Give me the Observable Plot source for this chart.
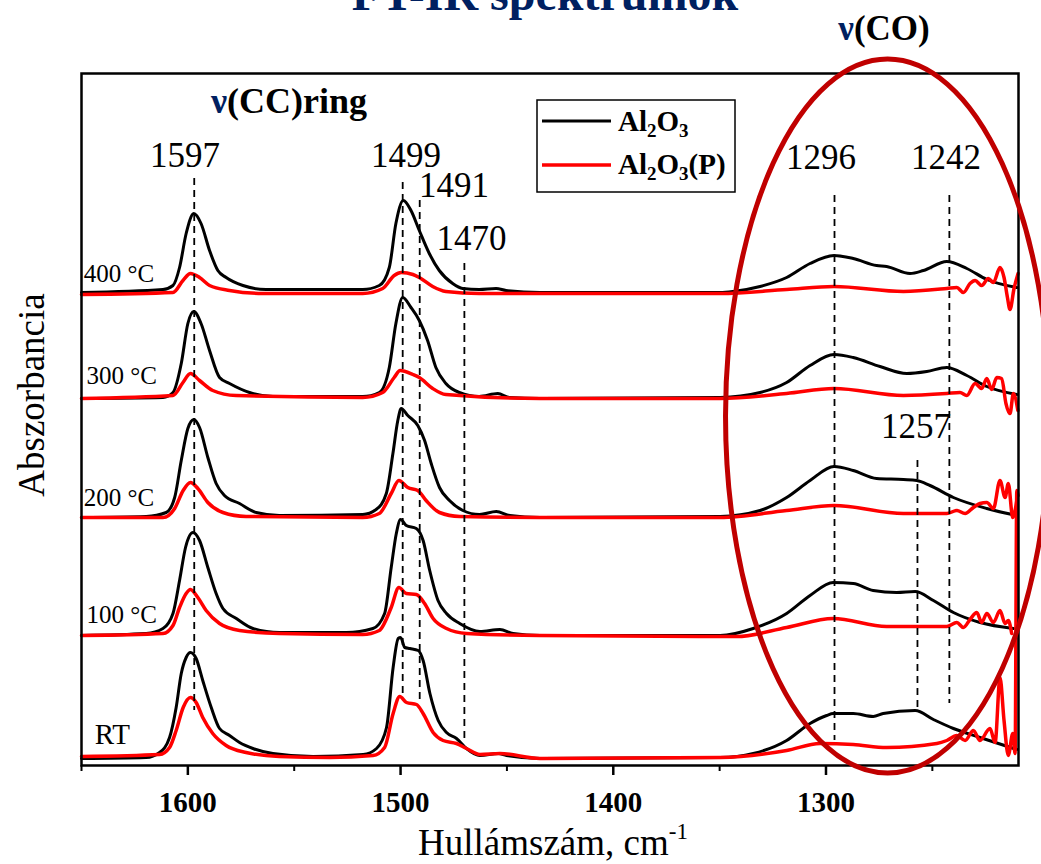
<!DOCTYPE html>
<html><head><meta charset="utf-8">
<script src="https://cdn.jsdelivr.net/npm/d3@7"></script>
<script src="https://cdn.jsdelivr.net/npm/@observablehq/plot@0.6"></script>
<style>body{margin:0;background:#fff}#chart{width:1041px;height:864px;overflow:hidden}</style>
</head><body><div id="chart"></div>
<script>
// ---- axis ticks ----
const majorTicks = [1600, 1500, 1400, 1300];
const minorTicks = [1650, 1550, 1450, 1350, 1250];

// ---- spectra: [wavenumber (cm-1), stacked absorbance (a.u.)] ----
const alRT = [[1650,0.07],[1619.6,0.08],[1613.3,0.13],[1608.6,0.28],[1605.5,0.58],[1603.1,0.92],[1600.8,1.08],[1598.8,1.13],[1596.1,1.07],[1593,0.85],[1589,0.58],[1585.1,0.37],[1580.4,0.30],[1575.7,0.23],[1569.4,0.17],[1560,0.12],[1541.1,0.09],[1517.6,0.11],[1511.3,0.17],[1506.6,0.38],[1503.5,0.98],[1501.1,1.27],[1500,1.28],[1498,1.18],[1495.6,1.17],[1491.7,1.15],[1489.4,1.05],[1486.2,0.72],[1482.3,0.45],[1478.4,0.33],[1473.7,0.27],[1469,0.17],[1462.7,0.10],[1454.1,0.12],[1450.2,0.10],[1434.5,0.07],[1349.8,0.08],[1334.2,0.12],[1318.5,0.25],[1307.5,0.42],[1299.7,0.50],[1296.6,0.52],[1287.2,0.52],[1277.8,0.49],[1273.1,0.52],[1258.1,0.55],[1249.5,0.46],[1240.1,0.37],[1227.6,0.28],[1210.3,0.16]];
const alpRT = [[1650,0.09],[1613.3,0.11],[1608.6,0.18],[1605.5,0.35],[1602.2,0.58],[1598.8,0.68],[1596.1,0.63],[1593,0.48],[1588.3,0.32],[1582,0.20],[1572.6,0.13],[1557,0.09],[1533.4,0.08],[1513,0.10],[1507.5,0.18],[1503.5,0.52],[1500.4,0.69],[1497.2,0.63],[1492.5,0.61],[1489.4,0.52],[1484.7,0.33],[1480,0.25],[1473.7,0.22],[1469,0.17],[1462.7,0.11],[1453.3,0.12],[1434.5,0.07],[1349.8,0.08],[1318.5,0.15],[1302.8,0.22],[1287.2,0.21],[1271.5,0.18],[1247.9,0.22],[1243.2,0.25],[1238.5,0.30],[1234.6,0.25],[1230.7,0.35],[1227.6,0.25],[1222.9,0.37],[1220.5,0.23],[1218.2,0.88],[1216.3,0.45],[1214.3,0.10],[1212.2,0.32],[1211.1,0.12],[1210.3,2.75],[1209.7,2.70]];
const al100 = [[1650,1.30],[1619.6,1.32],[1611.7,1.37],[1607,1.52],[1603.9,1.85],[1601.1,2.18],[1597.6,2.33],[1594.5,2.25],[1590.6,1.98],[1586.7,1.72],[1583.5,1.57],[1577.2,1.47],[1569.4,1.37],[1556.9,1.33],[1525.5,1.33],[1513,1.37],[1507.5,1.52],[1504.4,1.98],[1502,2.32],[1500,2.46],[1497.3,2.40],[1492.6,2.37],[1489.4,2.25],[1486.3,1.95],[1482.4,1.65],[1478.4,1.52],[1472.2,1.42],[1462.7,1.34],[1453.3,1.36],[1447.1,1.32],[1434.5,1.30],[1349.8,1.30],[1334.2,1.37],[1318.5,1.52],[1307.5,1.70],[1296.6,1.83],[1287.2,1.82],[1277.8,1.75],[1266.8,1.73],[1258.1,1.74],[1249.5,1.65],[1240.1,1.53],[1227.6,1.43],[1211.9,1.37]];
const alp100 = [[1650,1.30],[1611.7,1.32],[1607,1.40],[1603.9,1.58],[1600.8,1.72],[1598.8,1.76],[1595.3,1.68],[1591.4,1.55],[1585.1,1.42],[1575.7,1.35],[1557,1.32],[1517.8,1.31],[1510,1.35],[1504.4,1.58],[1500.8,1.78],[1497.3,1.72],[1492.6,1.71],[1488.7,1.62],[1484.7,1.47],[1478.4,1.37],[1469,1.32],[1434.5,1.30],[1342,1.29],[1318.5,1.38],[1296.6,1.47],[1271.5,1.39],[1243.2,1.39],[1238.5,1.43],[1235.4,1.38],[1232.3,1.46],[1229.1,1.53],[1226.8,1.43],[1224.4,1.52],[1221.3,1.43],[1218.2,1.55],[1215.8,1.42],[1214.3,1.45],[1212.7,1.32]];
const al200 = [[1650,2.48],[1619.6,2.49],[1610.2,2.53],[1606.2,2.68],[1603.1,3.05],[1600,3.37],[1597.2,3.46],[1594.5,3.38],[1590.6,3.08],[1586.7,2.82],[1582.8,2.70],[1575.7,2.62],[1567.9,2.53],[1557,2.50],[1517.8,2.51],[1511.5,2.56],[1506.7,2.72],[1503.6,3.12],[1501.3,3.45],[1499.7,3.57],[1496.6,3.50],[1491.9,3.40],[1488.7,3.25],[1485.6,3.02],[1481.7,2.78],[1477,2.65],[1470.7,2.55],[1462.9,2.51],[1455,2.54],[1448.7,2.50],[1434.5,2.48],[1349.8,2.49],[1331,2.55],[1318.5,2.68],[1307.5,2.85],[1296.2,2.99],[1287.2,2.95],[1276.2,2.87],[1263.6,2.86],[1257.3,2.85],[1251.1,2.80],[1240.1,2.68],[1224.4,2.57],[1210.3,2.50]];
const alp200 = [[1650,2.48],[1611.7,2.48],[1606.2,2.57],[1602.2,2.75],[1598.8,2.83],[1595.3,2.77],[1590.6,2.63],[1583.5,2.53],[1572.6,2.49],[1517.8,2.48],[1510,2.52],[1504.4,2.72],[1500.8,2.85],[1496.6,2.78],[1491.9,2.75],[1488,2.65],[1481.7,2.53],[1472.2,2.49],[1434.5,2.48],[1349.8,2.48],[1318.5,2.55],[1296.2,2.60],[1263.6,2.52],[1243.2,2.52],[1238.5,2.55],[1234.6,2.52],[1230.7,2.58],[1227.6,2.62],[1224.4,2.63],[1221.3,2.57],[1218.2,2.85],[1215.8,2.68],[1214.3,2.82],[1212.2,2.48],[1210.3,2.65]];
const al300 = [[1650,3.67],[1611.7,3.68],[1607,3.73],[1603.1,4.02],[1600,4.42],[1597.2,4.54],[1593.8,4.42],[1589.8,4.15],[1585.1,3.88],[1580.4,3.82],[1571,3.73],[1560,3.69],[1517.8,3.69],[1510,3.73],[1505.3,3.98],[1502.2,4.42],[1499,4.68],[1495.1,4.58],[1491.2,4.45],[1487.3,4.25],[1483.4,3.98],[1478.7,3.82],[1472.4,3.73],[1463,3.69],[1454.3,3.72],[1448.8,3.68],[1434.5,3.67],[1349.8,3.68],[1331,3.73],[1318.5,3.83],[1307.5,4.00],[1296.2,4.11],[1287.2,4.08],[1274.6,3.99],[1262,3.92],[1252.6,3.94],[1243.2,3.98],[1233.8,3.90],[1224.4,3.79],[1210.3,3.71]];
const alp300 = [[1650,3.67],[1607,3.70],[1602.3,3.83],[1598.8,3.92],[1594.5,3.85],[1588.3,3.75],[1577.3,3.70],[1517.8,3.68],[1508.4,3.73],[1503,3.88],[1500.2,3.95],[1494.2,3.91],[1491.2,3.88],[1484.9,3.77],[1478.7,3.71],[1434.5,3.67],[1349.8,3.67],[1318.5,3.72],[1296.2,3.77],[1263.6,3.70],[1243.2,3.72],[1237,3.73],[1233.8,3.70],[1229.9,3.82],[1226.8,3.77],[1224.4,3.87],[1222.1,3.76],[1219.7,3.88],[1217.4,3.87],[1215.4,3.62],[1213.5,3.52],[1211.9,3.72],[1209.8,3.55]];
const al400 = [[1650,4.73],[1611.7,4.76],[1607,4.80],[1603.9,4.98],[1600.8,5.32],[1597.2,5.52],[1593.8,5.42],[1589.8,5.15],[1585.9,4.95],[1582,4.88],[1574.1,4.80],[1563.2,4.76],[1517.8,4.76],[1510,4.80],[1505.3,4.98],[1502.2,5.42],[1498.7,5.65],[1495.1,5.55],[1491.2,5.35],[1486.5,5.12],[1481.8,4.95],[1475.5,4.82],[1470.8,4.77],[1463,4.76],[1455.1,4.77],[1450.4,4.75],[1434.5,4.73],[1349.8,4.73],[1343.6,4.74],[1331,4.79],[1318.5,4.88],[1307.5,5.02],[1296.2,5.10],[1287.2,5.07],[1276.2,5.00],[1271.5,4.99],[1260.5,4.92],[1254.2,4.95],[1243.2,5.04],[1233.8,4.97],[1224.4,4.86],[1210.3,4.78]];
const alp400 = [[1650,4.71],[1607,4.73],[1602.3,4.85],[1598.8,4.92],[1594.5,4.88],[1589.8,4.80],[1580.4,4.75],[1564.7,4.72],[1517.8,4.72],[1508.4,4.77],[1503,4.90],[1499.7,4.93],[1494.2,4.91],[1491.2,4.88],[1484.9,4.79],[1478.7,4.74],[1463,4.72],[1434.5,4.72],[1349.8,4.72],[1318.5,4.76],[1296.2,4.79],[1263.6,4.74],[1243.2,4.77],[1238.5,4.78],[1235.4,4.73],[1232.3,4.82],[1229.9,4.85],[1226.8,4.80],[1223.7,4.87],[1221.3,4.83],[1218.2,4.98],[1216.3,4.88],[1214.7,4.68],[1213.5,4.56],[1211.6,4.77],[1209.7,4.92]];

const samples = ["Al2O3", "Al2O3(P)"];
const temps = ["RT", "100 °C", "200 °C", "300 °C", "400 °C"];
const spectra = [
  {sample: samples[0], temp: temps[0], pts: alRT},  {sample: samples[1], temp: temps[0], pts: alpRT},
  {sample: samples[0], temp: temps[1], pts: al100}, {sample: samples[1], temp: temps[1], pts: alp100},
  {sample: samples[0], temp: temps[2], pts: al200}, {sample: samples[1], temp: temps[2], pts: alp200},
  {sample: samples[0], temp: temps[3], pts: al300}, {sample: samples[1], temp: temps[3], pts: alp300},
  {sample: samples[0], temp: temps[4], pts: al400}, {sample: samples[1], temp: temps[4], pts: alp400}
];

// ---- annotations ----
const peakWn    = [1597, 1499, 1491, 1470, 1296, 1242, 1257];
const peakFrom  = [5.87, 5.83, 5.65, 5.02, 5.70, 5.70, 3.05];
const peakTo    = [0.55, 0.68, 0.62, 0.25, 0.25, 0.62, 0.57];
const labelWn   = [1601.4, 1497.5, 1474.9, 1466.6, 1302.4, 1243.6, 1257.7];
const labelA    = [5.99, 5.99, 5.69, 5.16, 5.97, 5.97, 3.28];
const tempLabelWn = [1643.8, 1647.7, 1648.9, 1647.7, 1648.9];
const tempLabelA  = [0.22, 1.43, 2.60, 3.82, 4.84];
const tempLabelSize = [29, 25, 25, 25, 25];
const ellipseCO = {wn: 1270.8, a: 3.49, rWn: 76.2, rA: 3.57};

const rows = [];
for (const s of spectra) for (const [wn, a] of s.pts) rows.push({wn, a, sample: s.sample, temp: s.temp});
const peaks = peakWn.map((wn, i) => ({wn, from: peakFrom[i], to: peakTo[i], label: String(wn), lwn: labelWn[i], la: labelA[i]}));
const tempLabels = temps.map((t, i) => ({t, wn: tempLabelWn[i], a: tempLabelA[i], size: tempLabelSize[i]}));

const FONT = "Liberation Serif, Times New Roman, serif";
const plot = Plot.plot({
  width: 1041, height: 864,
  marginLeft: 81, marginRight: 23, marginTop: 73, marginBottom: 99,
  style: {fontFamily: FONT, background: "#fff", color: "#000", overflow: "visible"},
  x: {domain: [1650, 1209.5], label: null},
  y: {domain: [0, 6.92], axis: null, label: null},
  marks: [
    Plot.axisX(minorTicks, {tickSize: 6, tickFormat: () => "", strokeWidth: 2, label: null}),
    Plot.axisX(majorTicks, {tickSize: 10, tickPadding: 16, tickFormat: d => String(d), fontSize: 29, fontWeight: "bold", strokeWidth: 2.5, label: null}),
    Plot.line(rows.filter(d => d.sample === samples[0]), {x: "wn", y: "a", z: "temp", stroke: "#000000", strokeWidth: 3, curve: "monotone-x"}),
    Plot.line(rows.filter(d => d.sample === samples[1]), {x: "wn", y: "a", z: "temp", stroke: "#ff0000", strokeWidth: 3.5, curve: "monotone-x"}),
    Plot.ruleX(peaks, {x: "wn", y1: "from", y2: "to", stroke: "#000", strokeWidth: 1.8, strokeDasharray: "7,5"}),
    Plot.text(peaks, {x: "lwn", y: "la", text: "label", fontSize: 35, lineAnchor: "bottom", fill: "#000"}),
    Plot.text(tempLabels.filter(d => d.size === 25), {x: "wn", y: "a", text: "t", fontSize: 25, textAnchor: "start", lineAnchor: "bottom", fill: "#000"}),
    Plot.text(tempLabels.filter(d => d.size !== 25), {x: "wn", y: "a", text: "t", fontSize: 29, textAnchor: "start", lineAnchor: "bottom", fill: "#000"}),
    Plot.frame({stroke: "#000", strokeWidth: 2.5})
  ]
});
document.getElementById("chart").appendChild(plot);

// ---- extra text, legend and the ν(CO) ellipse ----
const svg = d3.select(plot);
const X = plot.scale("x"), Y = plot.scale("y");
const cx = X.apply(ellipseCO.wn), cy = Y.apply(ellipseCO.a);
svg.append("ellipse")
  .attr("cx", cx).attr("cy", cy)
  .attr("rx", Math.abs(X.apply(ellipseCO.wn - ellipseCO.rWn) - cx))
  .attr("ry", Math.abs(Y.apply(ellipseCO.a + ellipseCO.rA) - cy))
  .attr("fill", "none").attr("stroke", "#c00000").attr("stroke-width", 5);

const g = svg.append("g").attr("font-family", FONT).attr("text-anchor", "start");
// title (partly above the page, as in the reference)
g.append("text").attr("x", 545).attr("y", 10).attr("text-anchor", "middle")
  .attr("font-size", 48).attr("font-weight", "bold").attr("fill", "#002060").text("FT-IR spektrumok");
// ν(CO)
const tCO = g.append("text").attr("x", 884).attr("y", 40).attr("text-anchor", "middle")
  .attr("font-size", 35).attr("font-weight", "bold");
tCO.append("tspan").attr("fill", "#002060").text("ν");
tCO.append("tspan").attr("fill", "#000").text("(CO)");
// ν(CC)ring
const tCC = g.append("text").attr("x", 211).attr("y", 113).attr("text-anchor", "start")
  .attr("font-size", 36).attr("font-weight", "bold");
tCC.append("tspan").attr("fill", "#002060").text("ν");
tCC.append("tspan").attr("fill", "#000").text("(CC)ring");
// axis titles
const xl = g.append("text").attr("x", 418).attr("y", 855).attr("text-anchor", "start").attr("font-size", 37).attr("fill", "#000");
xl.append("tspan").text("Hullámszám, cm");
xl.append("tspan").attr("font-size", 23).attr("dy", -16).text("-1");
g.append("text").attr("transform", "translate(44,395) rotate(-90)").attr("text-anchor", "middle")
  .attr("font-size", 37).attr("fill", "#000").text("Abszorbancia");

// legend
const lg = g.append("g");
lg.append("rect").attr("x", 537).attr("y", 100).attr("width", 198).attr("height", 92)
  .attr("fill", "#fff").attr("stroke", "#000").attr("stroke-width", 1.5);
const legendItems = [{c: "#000000", w: 3, y: 121, base: 131, extra: ""}, {c: "#ff0000", w: 3.5, y: 165, base: 174, extra: "(P)"}];
for (const it of legendItems) {
  lg.append("line").attr("x1", 542).attr("x2", 611).attr("y1", it.y).attr("y2", it.y)
    .attr("stroke", it.c).attr("stroke-width", it.w);
  const t = lg.append("text").attr("x", 618).attr("y", it.base).attr("text-anchor", "start")
    .attr("font-size", 29).attr("font-weight", "bold").attr("fill", "#000");
  t.append("tspan").text("Al");
  t.append("tspan").attr("font-size", 19).attr("dy", 6).text("2");
  t.append("tspan").attr("dy", -6).text("O");
  t.append("tspan").attr("font-size", 19).attr("dy", 6).text("3");
  if (it.extra) t.append("tspan").attr("dy", -6).text(it.extra);
}
</script>
</body></html>
